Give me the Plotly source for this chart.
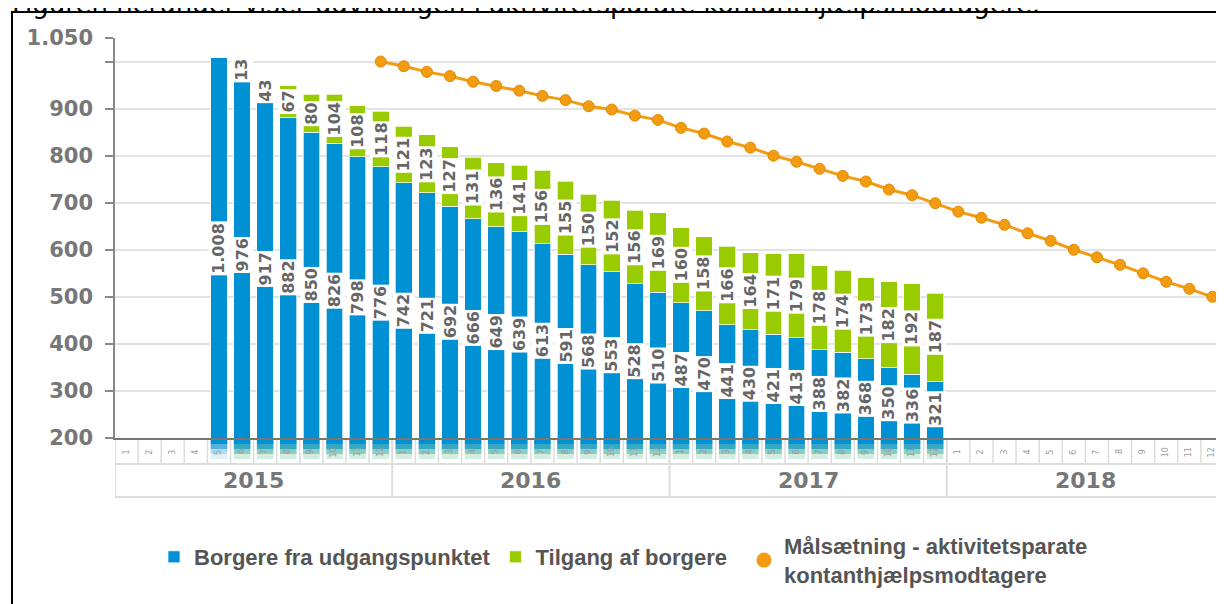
import plotly.graph_objects as go

# ---------------- data ----------------
years = ["2015", "2016", "2017", "2018"]
month_ticks = ["1", "2", "3", "4", "5", "6", "7", "8", "9", "10", "11", "12"]

# Borgere fra udgangspunktet (2015-5 .. 2017-12)
blue = [1008, 976, 917, 882, 850, 826, 798, 776,
        742, 721, 692, 666, 649, 639, 613, 591, 568, 553, 528, 510,
        487, 470, 441, 430, 421, 413, 388, 382, 368, 350, 336, 321]
# Tilgang af borgere (2015-5 .. 2017-12)
green = [0, 13, 43, 67, 80, 104, 108, 118,
         121, 123, 127, 131, 136, 141, 156, 155, 150, 152, 156, 169,
         160, 158, 166, 164, 171, 179, 178, 174, 173, 182, 192, 187]
# Målsætning (2015-12 .. 2018-12)
target = [1000, 990, 978, 969, 957, 948, 938, 927, 918, 905, 898, 885, 876,
          859, 847, 830, 817, 800, 787, 772, 757, 745, 728, 716, 699,
          681, 668, 653, 635, 619, 600, 584, 568, 550, 532, 517, 500]

y_tickvals = [200, 300, 400, 500, 600, 700, 800, 900, 1000, 1050]
y_ticktext = ["200", "300", "400", "500", "600", "700", "800", "900", "", "1.050"]
Y_MIN, Y_MAX = 200, 1050

series_names = ["Borgere fra udgangspunktet", "Tilgang af borgere",
                "Målsætning - aktivitetsparate<br>kontanthjælpsmodtagere"]
title_text = "Figuren herunder viser udviklingen i aktivitetsparate kontanthjælpsmodtagere."

periods = [f"{y}-{m}" for y in years for m in month_ticks]
bar_periods = periods[periods.index("2015-5"):periods.index("2017-12") + 1]
target_periods = periods[periods.index("2015-12"):]

# ---------------- style / layout ----------------
BLUE = "#0090d4"
GREEN = "#99cc00"
ORANGE = "#f39c12"
W, H = 1224, 604
OFF = 8                     # page body margin offset
SCR_L, SCR_T, SCR_B, SCR_R = 115, 38, 438, 1224   # plot area on screen
L = SCR_L - OFF
T = SCR_T - OFF
B = H - (SCR_B - OFF)
R = W - (SCR_R - OFF)
PLOT_H = SCR_B - SCR_T
PLOT_W = SCR_R - SCR_L


def py(p):  # screen row -> paper y
    return (SCR_B - p) / PLOT_H


def px(p):  # screen col -> paper x
    return (p - SCR_L) / PLOT_W


def fmt(v):
    return f"{v:,}".replace(",", ".")


fig = go.Figure()
fig.add_bar(x=bar_periods, y=blue, name=series_names[0], width=0.72,
            marker=dict(color=BLUE, line=dict(color="rgba(255,255,255,0.7)", width=1)))
fig.add_bar(x=bar_periods, y=green, name=series_names[1], width=0.72,
            marker=dict(color=GREEN, line=dict(color="rgba(255,255,255,0.7)", width=1)))
fig.add_scatter(x=target_periods, y=target, mode="lines+markers", showlegend=False,
                line=dict(color=ORANGE, width=3),
                marker=dict(size=11, color=ORANGE, line=dict(color="#e08a00", width=1)))
fig.add_scatter(x=[None], y=[None], mode="markers", name=series_names[2], legend="legend2",
                marker=dict(size=15, color=ORANGE))

label_font = dict(family="DejaVu Sans", size=16, color="#666666", weight="bold")
for p, b, g in zip(bar_periods, blue, green):
    fig.add_annotation(x=p, y=(Y_MIN + b) / 2, text=fmt(b), textangle=-90,
                       xanchor="center", yanchor="middle",
                       showarrow=False, bgcolor="white", borderpad=1, font=label_font)
    if g > 0:
        fig.add_annotation(x=p, y=b + g / 2, text=fmt(g), textangle=-90,
                           xanchor="center", yanchor="middle",
                           showarrow=False, bgcolor="white", borderpad=1, font=label_font)

shapes = []
# gradient "reflection" under bars
for p, g in zip(bar_periods, green):
    i = periods.index(p)
    if g > 0:
        bands = [("#0090d4", 1.0), ("#1f9fc0", 0.9), ("#5bb8a6", 0.7), ("#a9dbc4", 0.5)]
    else:
        bands = [("#0090d4", 1.0), ("#3aa3dc", 0.85), ("#7cc2e8", 0.6), ("#c4e4f5", 0.5)]
    for k, (c, op) in enumerate(bands):
        shapes.append(dict(type="rect", xref="x", yref="paper", x0=i - 0.36, x1=i + 0.36,
                           y0=py(439 + 5 * (k + 1)), y1=py(439 + 5 * k),
                           fillcolor=c, opacity=op, line=dict(width=0), layer="below"))
# month cell separators
for i in range(len(periods) + 1):
    shapes.append(dict(type="line", xref="x", yref="paper", x0=i - 0.5, x1=i - 0.5,
                       y0=py(440), y1=py(464), line=dict(color="#dddddd", width=1.5)))
# year row
for yy in (464, 497):
    shapes.append(dict(type="line", xref="x", yref="paper", x0=-0.5, x1=len(periods) - 0.5,
                       y0=py(yy), y1=py(yy), line=dict(color="#dddddd", width=2)))
for k in range(len(years) + 1):
    shapes.append(dict(type="line", xref="x", yref="paper", x0=12 * k - 0.5, x1=12 * k - 0.5,
                       y0=py(440), y1=py(497), line=dict(color="#dddddd", width=2)))
# outer frame
shapes.append(dict(type="rect", xref="paper", yref="paper", x0=px(12), x1=px(1240),
                   y0=py(620), y1=py(12), line=dict(color="black", width=2)))

annotations = []
for i, p in enumerate(periods):
    annotations.append(dict(x=i, y=py(452), xref="x", yref="paper", text=month_ticks[i % 12],
                            textangle=-90, showarrow=False, xanchor="center", yanchor="middle",
                            font=dict(family="DejaVu Sans", size=8, color="#999999")))
for k, yr in enumerate(years):
    annotations.append(dict(x=12 * k + 5.5, y=py(480), xref="x", yref="paper", text=yr,
                            showarrow=False, xanchor="center", yanchor="middle",
                            font=dict(family="DejaVu Sans", size=22, color="#777777", weight="bold")))
annotations.append(dict(x=px(10), y=py(4), xref="paper", yref="paper", text=title_text,
                        xanchor="left", yanchor="middle", showarrow=False,
                        font=dict(family="DejaVu Sans", size=26, color="black")))
for a in annotations:
    fig.add_annotation(**a)

legend_font = dict(family="Liberation Sans", size=22, color="#555555", weight="bold")
fig.update_layout(
    width=W, height=H,
    margin=dict(l=L, r=R, t=T, b=B, autoexpand=False),
    barmode="stack", bargap=0.28,
    plot_bgcolor="white", paper_bgcolor="white",
    shapes=shapes,
    showlegend=True,
    legend=dict(orientation="h", x=px(154), xanchor="left", y=py(536), yanchor="top",
                traceorder="normal", font=legend_font,
                bgcolor="rgba(0,0,0,0)", itemwidth=30),
    legend2=dict(orientation="h", x=px(744), xanchor="left", y=py(525), yanchor="top",
                 font=legend_font, bgcolor="rgba(0,0,0,0)", itemwidth=30),
    xaxis=dict(type="category", categoryorder="array", categoryarray=periods,
               range=[-0.5, len(periods) - 0.5], showticklabels=False, ticks="",
               showgrid=False, zeroline=False, showline=True, linecolor="#777777", linewidth=2),
    yaxis=dict(range=[Y_MIN, Y_MAX], tickvals=y_tickvals, ticktext=y_ticktext,
               showgrid=True, gridcolor="#e3e3e3", gridwidth=1.5, zeroline=False,
               showline=True, linecolor="#888888", linewidth=1.5,
               ticks="outside", ticklen=8, tickcolor="#888888", tickwidth=1.5,
               ticklabelstandoff=8,
               tickfont=dict(family="DejaVu Sans", size=21, color="#777777", weight="bold")),
)

fig.write_html("out.html")
